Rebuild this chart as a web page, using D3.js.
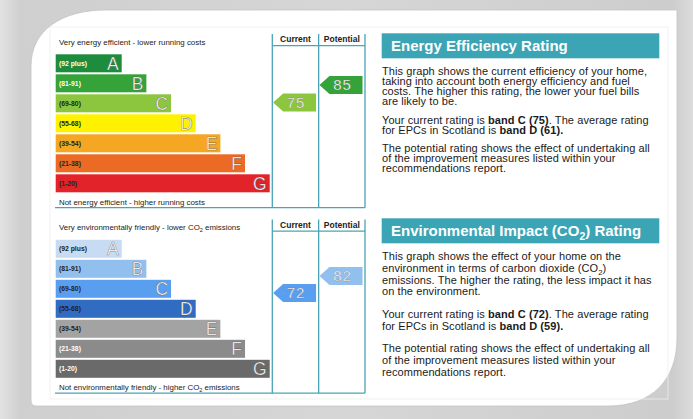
<!DOCTYPE html>
<html><head><meta charset="utf-8">
<script src="https://cdn.jsdelivr.net/npm/d3@7"></script>
<style>
html,body{margin:0;padding:0;background:#d4d4d4;}
svg{display:block;font-family:"Liberation Sans",Arial,sans-serif;}
</style></head>
<body>
<svg id="c" width="693" height="419"></svg>
<script>
// ---------- data ----------
const bands = ["A","B","C","D","E","F","G"];
const rangeLabels = ["(92 plus)","(81-91)","(69-80)","(55-68)","(39-54)","(21-38)","(1-20)"];
const bandMin = [92,81,69,55,39,21,1];
const bandMax = [100,91,80,68,54,38,20];
const energyColors = ["#1d8c3c","#36a23a","#8cc63f","#fff200","#f5a623","#ec6b24","#e3232a"];
const energyLabelColors = ["#fff","#fff","#222","#222","#222","#222","#222"];
const envColors = ["#c7dcf2","#92c0ee","#5a9eef","#2f6cc2","#a3a3a3","#8b8b8b","#6a6a6a"];
const envLabelColors = ["#222","#222","#222","#222","#222","#fff","#fff"];
const energyCurrent = 75, energyPotential = 85;
const envCurrent = 72, envPotential = 82;
const colHeaders = ["Current","Potential"];

const energyTexts = {
  title: [["Energy Efficiency Rating"]],
  paras: [
    [[["This graph shows the current efficiency of your home,"]],
     [["taking into account both energy efficiency and fuel"]],
     [["costs. The higher this rating, the lower your fuel bills"]],
     [["are likely to be."]]],
    [[["Your current rating is "],["band C (75)","b"],[". The average rating"]],
     [["for EPCs in Scotland is "],["band D (61).","b"]]],
    [[["The potential rating shows the effect of undertaking all"]],
     [["of the improvement measures listed within your"]],
     [["recommendations report."]]]
  ],
  top: [["Very energy efficient - lower running costs"]],
  bottom: [["Not energy efficient - higher running costs"]]
};
const envTexts = {
  title: [["Environmental Impact (CO"],["2","sub"],[") Rating"]],
  paras: [
    [[["This graph shows the effect of your home on the"]],
     [["environment in terms of carbon dioxide (CO"],["2","sub"],[")"]],
     [["emissions. The higher the rating, the less impact it has"]],
     [["on the environment."]]],
    [[["Your current rating is "],["band C (72)","b"],[". The average rating"]],
     [["for EPCs in Scotland is "],["band D (59).","b"]]],
    [[["The potential rating shows the effect of undertaking all"]],
     [["of the improvement measures listed within your"]],
     [["recommendations report."]]]
  ],
  top: [["Very environmentally friendly - lower CO"],["2","sub"],[" emissions"]],
  bottom: [["Not environmentally friendly - higher CO"],["2","sub"],[" emissions"]]
};

// ---------- background & card ----------
const svg = d3.select("#c");
const defs = svg.append("defs");
const bg = defs.append("linearGradient").attr("id","bgL").attr("x1",0).attr("x2",1).attr("y1",0).attr("y2",0);
bg.append("stop").attr("offset","0").attr("stop-color","#e2e2e2");
bg.append("stop").attr("offset","0.03").attr("stop-color","#cfcfcf");
bg.append("stop").attr("offset","0.5").attr("stop-color","#d6d6d6");
bg.append("stop").attr("offset","0.97").attr("stop-color","#cdcdcd");
bg.append("stop").attr("offset","1").attr("stop-color","#dcdcdc");
svg.append("rect").attr("width",693).attr("height",419).attr("fill","url(#bgL)");

const card = d3.path();
card.moveTo(31, 66);
card.bezierCurveTo(31, 30, 62, 10, 106, 10);
card.lineTo(677, 10);
card.lineTo(677, 338);
card.bezierCurveTo(677, 380, 652, 406, 608, 406);
card.lineTo(36, 406);
card.quadraticCurveTo(31, 406, 31, 400);
card.closePath();
svg.append("path").attr("d", card.toString()).attr("fill","#fff").attr("stroke","#c4c4c4").attr("stroke-width",0.8);
svg.append("rect").attr("x",50).attr("y",27).attr("width",618).attr("height",372)
  .attr("fill","none").attr("stroke","#ededed").attr("stroke-width",0.8);

// ---------- helpers ----------
function richText(sel, segs, size) {
  segs.forEach((s, k) => {
    const t = sel.append("tspan").text(s[0]);
    if (s[1] === "b") t.attr("font-weight","bold");
    if (s[1] === "sub") { t.attr("font-size", size*0.7).attr("dy", size*0.25); }
    else if (k > 0 && segs[k-1][1] === "sub") t.attr("dy", -size*0.25);
  });
}

const teal = "#4aa3b6";
const yBand = d3.scaleBand().domain(bands).range([0, 138]).paddingInner(0.1).paddingOuter(0);
const wBar = d3.scaleLinear().domain([0, bands.length-1]).range([66, 214]);
const colX = d3.scalePoint().domain([0,1,2]).range([272.3, 365]);

function drawChart(g, colors, labelColors, cur, pot, texts) {
  const topT = g.append("text").attr("x",59).attr("y",10.6).attr("font-size",7.9).attr("fill","#222");
  richText(topT, texts.top, 7.9);
  const botT = g.append("text").attr("x",59).attr("y",170.6).attr("font-size",7.9).attr("fill","#222");
  richText(botT, texts.bottom, 7.9);

  const bars = g.append("g").attr("transform","translate(55.7,20.3)");
  const row = bars.selectAll("g.band").data(bands).join("g").attr("class","band")
    .attr("transform", d => `translate(0,${yBand(d)})`);
  row.append("rect").attr("width",(d,i)=>wBar(i)).attr("height",yBand.bandwidth()).attr("fill",(d,i)=>colors[i]);
  row.append("text").attr("x",3.3).attr("y",yBand.bandwidth()/2+2.5).attr("font-size",6.8).attr("font-weight","bold")
    .attr("fill",(d,i)=>labelColors[i]).text((d,i)=>rangeLabels[i]);
  row.append("text").attr("x",(d,i)=>wBar(i)-3).attr("y",yBand.bandwidth()/2+6.3).attr("text-anchor","end")
    .attr("font-size",17.5).attr("fill","#fff").attr("stroke","rgba(60,60,60,0.55)").attr("stroke-width",0.6)
    .text(d=>d);

  const x0 = colX(0), x1 = colX(1), x2 = colX(2);
  [x0,x1,x2].forEach(x => g.append("line").attr("x1",x).attr("x2",x).attr("y1",0).attr("y2",173.7)
    .attr("stroke",teal).attr("stroke-width",1.3));
  g.append("line").attr("x1",x0).attr("x2",x2).attr("y1",11.7).attr("y2",11.7).attr("stroke",teal).attr("stroke-width",1.3);
  g.append("line").attr("x1",55).attr("x2",x2).attr("y1",173.7).attr("y2",173.7).attr("stroke",teal).attr("stroke-width",1.3);
  g.selectAll("text.hdr").data(colHeaders).join("text").attr("class","hdr")
    .attr("x",(d,i)=>(colX(i)+colX(i+1))/2).attr("y",8.3).attr("text-anchor","middle")
    .attr("font-size",8.5).attr("font-weight","bold").attr("fill","#222").text(d=>d);

  function arrowY(v) {
    const i = bands.findIndex((b,k)=> v>=bandMin[k] && v<=bandMax[k]);
    const s = d3.scaleLinear().domain([bandMax[i], bandMin[i]]).range([yBand(bands[i]), yBand(bands[i])+yBand.bandwidth()]);
    return { cy: 20.3 + s(v), color: colors[i] };
  }
  [[cur, x0+0.8, x1-2.6],[pot, x1+0.8, x2-2.5]].forEach(([v, ax0, ax1]) => {
    const a = arrowY(v);
    const h = yBand.bandwidth()/2;
    const p = d3.path();
    p.moveTo(ax0, a.cy); p.lineTo(ax0+10, a.cy-h); p.lineTo(ax1, a.cy-h);
    p.lineTo(ax1, a.cy+h); p.lineTo(ax0+10, a.cy+h); p.closePath();
    g.append("path").attr("d",p.toString()).attr("fill",a.color);
    g.append("text").attr("x",(ax0+ax1)/2+1.5).attr("y",a.cy+5.3).attr("text-anchor","middle")
      .attr("font-size",15).attr("letter-spacing",1).attr("fill","#fff")
      .attr("stroke","rgba(80,80,80,0.45)").attr("stroke-width",0.5).text(v);
  });
}

function drawPanel(g, texts, lh, paraGap) {
  g.append("rect").attr("x",381.7).attr("y",0).attr("width",277.6).attr("height",25).attr("fill","#3ba4b5");
  const tt = g.append("text").attr("x",391).attr("y",18).attr("font-size",15).attr("font-weight","bold").attr("fill","#fff");
  richText(tt, texts.title, 15);
  let yy = 42;
  texts.paras.forEach(para => {
    para.forEach(line => {
      const t = g.append("text").attr("x",382).attr("y",yy).attr("font-size",11).attr("letter-spacing",0.08).attr("fill","#1a1a1a");
      richText(t, line, 11);
      yy += lh;
    });
    yy += paraGap;
  });
}

const gTop = svg.append("g").attr("transform","translate(0,34)");
drawChart(gTop, energyColors, energyLabelColors, energyCurrent, energyPotential, energyTexts);
const gBottom = svg.append("g").attr("transform","translate(0,219.5)");
drawChart(gBottom, envColors, envLabelColors, envCurrent, envPotential, envTexts);

drawPanel(svg.append("g").attr("transform","translate(0,33.3)"), energyTexts, 10, 8.3);
drawPanel(svg.append("g").attr("transform","translate(0,218.3)"), envTexts, 11.7, 11);
</script>
</body></html>
